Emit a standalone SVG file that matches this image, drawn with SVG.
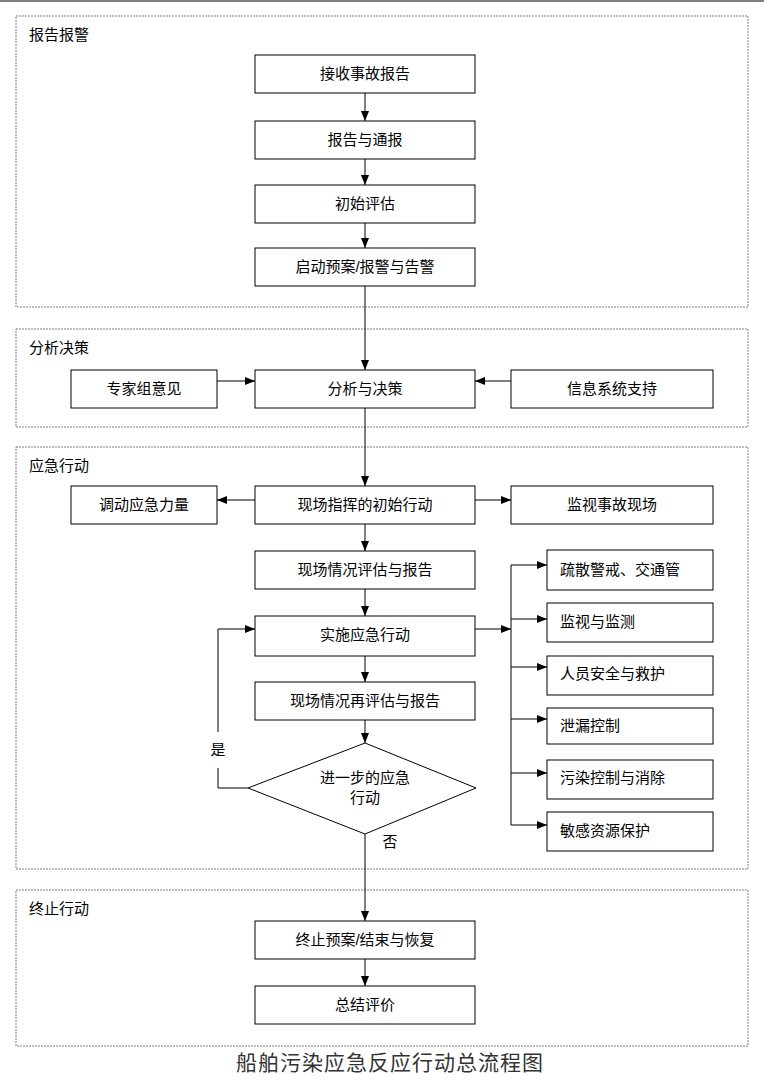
<svg xmlns="http://www.w3.org/2000/svg" width="764" height="1085" viewBox="0 0 764 1085">
<style>
.grp{fill:none;stroke:#808080;stroke-width:1;stroke-dasharray:2,1}
.box rect,.box polygon{fill:#fff;stroke:#000;stroke-width:1}
text{font-family:"Liberation Sans","Noto Sans CJK SC",sans-serif;font-size:15px;fill:#000}
.c{text-anchor:middle}
.ln{stroke:#000;stroke-width:1;fill:none}
.ar{marker-end:url(#a)}
</style>
<defs><marker id="a" markerWidth="10" markerHeight="8" refX="10" refY="4" orient="auto" markerUnits="userSpaceOnUse"><path d="M0,0L10,4L0,8Z" fill="#000"/></marker></defs>
<rect width="764" height="1085" fill="#fff"/>
<line x1="0" y1="1" x2="764" y2="1" stroke="#808080" stroke-width="2"/>
<g id="g1"><rect class="grp" x="16" y="16" width="732" height="291"/><text x="29" y="40">报告报警</text></g>
<g id="g2"><rect class="grp" x="16" y="329" width="732" height="98"/><text x="29" y="353">分析决策</text></g>
<g id="g3"><rect class="grp" x="16" y="447" width="732" height="422"/><text x="29" y="471">应急行动</text></g>
<g id="g4"><rect class="grp" x="16" y="890" width="732" height="156"/><text x="29" y="914">终止行动</text></g>
<g id="connectors">
<line class="ln ar" x1="365" y1="93" x2="365" y2="121"/>
<line class="ln ar" x1="365" y1="159" x2="365" y2="185"/>
<line class="ln ar" x1="365" y1="223" x2="365" y2="248"/>
<line class="ln ar" x1="365" y1="286" x2="365" y2="370"/>
<line class="ln ar" x1="217" y1="381" x2="255" y2="381"/>
<line class="ln ar" x1="511" y1="381" x2="475" y2="381"/>
<line class="ln ar" x1="365" y1="408" x2="365" y2="486"/>
<line class="ln ar" x1="255" y1="500" x2="217" y2="500"/>
<line class="ln ar" x1="475" y1="500" x2="511" y2="500"/>
<line class="ln ar" x1="365" y1="524" x2="365" y2="551"/>
<line class="ln ar" x1="365" y1="589" x2="365" y2="616"/>
<line class="ln ar" x1="365" y1="656" x2="365" y2="682"/>
<line class="ln ar" x1="365" y1="720" x2="365" y2="743"/>
<line class="ln ar" x1="475" y1="629" x2="511" y2="629"/>
<line class="ln" x1="511" y1="565" x2="511" y2="825"/>
<line class="ln ar" x1="511" y1="565" x2="547" y2="565"/>
<line class="ln ar" x1="511" y1="619" x2="547" y2="619"/>
<line class="ln ar" x1="511" y1="667" x2="547" y2="667"/>
<line class="ln ar" x1="511" y1="719" x2="547" y2="719"/>
<line class="ln ar" x1="511" y1="773" x2="547" y2="773"/>
<line class="ln ar" x1="511" y1="825" x2="547" y2="825"/>
<polyline class="ln" points="248,788 218,788 218,768"/>
<polyline class="ln ar" points="218,732 218,629 255,629"/>
<text x="218" y="755" class="c">是</text>
<line class="ln ar" x1="365" y1="834" x2="365" y2="921"/>
<text x="390" y="847" class="c">否</text>
<line class="ln ar" x1="365" y1="959" x2="365" y2="986"/>
</g>
<g id="n1" class="box"><rect x="255" y="55" width="220" height="38"/><text x="365" y="79" class="c">接收事故报告</text></g>
<g id="n2" class="box"><rect x="255" y="121" width="220" height="38"/><text x="365" y="145" class="c">报告与通报</text></g>
<g id="n3" class="box"><rect x="255" y="185" width="220" height="38"/><text x="365" y="209" class="c">初始评估</text></g>
<g id="n4" class="box"><rect x="255" y="248" width="220" height="38"/><text x="365" y="272" class="c">启动预案/报警与告警</text></g>
<g id="n5" class="box"><rect x="71" y="370" width="146" height="38"/><text x="144" y="394" class="c">专家组意见</text></g>
<g id="n6" class="box"><rect x="255" y="370" width="220" height="38"/><text x="365" y="394" class="c">分析与决策</text></g>
<g id="n7" class="box"><rect x="511" y="370" width="202" height="38"/><text x="612" y="394" class="c">信息系统支持</text></g>
<g id="n8" class="box"><rect x="255" y="486" width="220" height="38"/><text x="365" y="510" class="c">现场指挥的初始行动</text></g>
<g id="n9" class="box"><rect x="71" y="486" width="146" height="38"/><text x="144" y="510" class="c">调动应急力量</text></g>
<g id="n10" class="box"><rect x="511" y="486" width="202" height="38"/><text x="612" y="510" class="c">监视事故现场</text></g>
<g id="n11" class="box"><rect x="255" y="551" width="220" height="38"/><text x="365" y="575" class="c">现场情况评估与报告</text></g>
<g id="n12" class="box"><rect x="255" y="616" width="220" height="40"/><text x="365" y="640" class="c">实施应急行动</text></g>
<g id="n13" class="box"><rect x="255" y="682" width="220" height="38"/><text x="365" y="706" class="c">现场情况再评估与报告</text></g>
<g id="n14" class="box"><polygon points="365,743 476,788 365,834 248,788"/><text x="365" y="783" class="c">进一步的应急</text><text x="365" y="803" class="c">行动</text></g>
<g id="r1" class="box"><rect x="547" y="550" width="166" height="40"/><text x="560" y="575">疏散警戒、交通管</text></g>
<g id="r2" class="box"><rect x="547" y="603" width="166" height="39"/><text x="560" y="627">监视与监测</text></g>
<g id="r3" class="box"><rect x="547" y="656" width="166" height="39"/><text x="560" y="679">人员安全与救护</text></g>
<g id="r4" class="box"><rect x="547" y="708" width="166" height="36"/><text x="560" y="731">泄漏控制</text></g>
<g id="r5" class="box"><rect x="547" y="760" width="166" height="39"/><text x="560" y="783">污染控制与消除</text></g>
<g id="r6" class="box"><rect x="547" y="812" width="166" height="39"/><text x="560" y="836">敏感资源保护</text></g>
<g id="n15" class="box"><rect x="255" y="921" width="220" height="38"/><text x="365" y="945" class="c">终止预案/结束与恢复</text></g>
<g id="n16" class="box"><rect x="255" y="986" width="220" height="38"/><text x="365" y="1010" class="c">总结评价</text></g>
<text x="390" y="1070" class="c" style="font-family:'Liberation Serif','Noto Sans CJK SC',serif;font-size:21px;fill:#333;letter-spacing:1px">船舶污染应急反应行动总流程图</text>
</svg>
